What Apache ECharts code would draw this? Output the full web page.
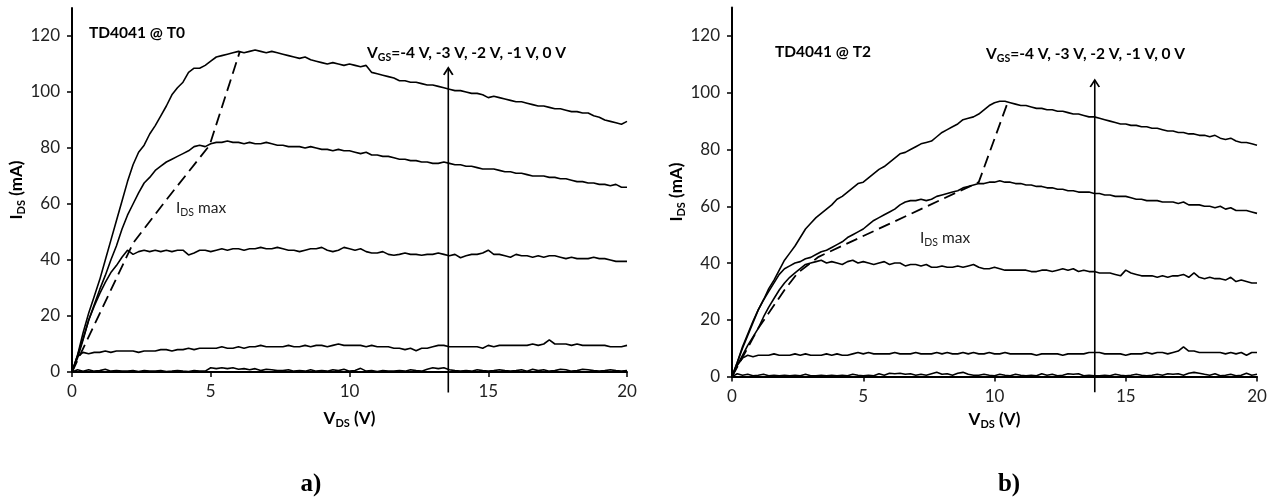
<!DOCTYPE html>
<html><head><meta charset="utf-8">
<script src="https://cdn.jsdelivr.net/npm/echarts@6/dist/echarts.min.js"></script>
<style>html,body{margin:0;padding:0;background:#fff}#c{width:1275px;height:502px}</style>
</head><body><div id="c"></div><script>
// Shared V_DS sample points (V)
const vds = [
  0,0.2,0.4,0.6,0.8,1,1.2,1.4,1.6,1.8,
  2,2.2,2.4,2.6,2.8,3,3.2,3.4,3.6,3.8,
  4,4.2,4.4,4.6,4.8,5,5.2,5.4,5.6,5.8,
  6,6.2,6.4,6.6,6.8,7,7.2,7.4,7.6,7.8,
  8,8.2,8.4,8.6,8.8,9,9.2,9.4,9.6,9.8,
  10,10.2,10.4,10.6,10.8,11,11.2,11.4,11.6,11.8,
  12,12.2,12.4,12.6,12.8,13,13.2,13.4,13.6,13.8,
  14,14.2,14.4,14.6,14.8,15,15.2,15.4,15.6,15.8,
  16,16.2,16.4,16.6,16.8,17,17.2,17.4,17.6,17.8,
  18,18.2,18.4,18.6,18.8,19,19.2,19.4,19.6,19.8,
  20];

// ---- a) TD4041 @ T0 : I_DS (mA) ----
const t0Vgs0 = [
  0,6,14,21,27,33,40,47,54,61,
  68,74,78.5,81,85,88,91.5,95,99,101.5,
  103.5,107,108.5,108.5,109.5,111,112.5,113,113.5,114,
  114.5,114,114.5,115,114.5,114,114.5,114,113.5,113,
  112.5,112,112.5,111.5,111,110.5,110,110.5,110,109.5,
  110,109.5,109,109.5,107,106.5,106,105.5,105,104,
  104,103.5,103.5,103,102.5,102.5,102,101.5,101,100.5,
  100.5,100,99.5,99.5,99,98,98.5,98,97.5,97,
  96.5,96.5,96,95.5,95,95,94.5,94,94,93.5,
  93,93,92.5,92.5,91.5,91,90,89.5,89,88.5,
  89.5];
const t0VgsM1 = [
  0,6,12,18.5,24,29.5,34.5,40,45,51,
  56,60,64,67.5,69.5,72,73.5,75,76,77,
  78,79,80.5,81,80.5,81.5,82,82,82.5,82,
  82,81.5,82,81.5,81.5,82,81.5,81,81,80.5,
  80.5,80.5,80,80.5,80,79.5,79.5,79,79.5,79,
  79,78.5,78,78.5,77.5,77.5,77,77,76.5,76,
  76,75.5,75.5,75,75,74.5,74.5,75,74.5,74,
  74,73.5,73.5,73,72.5,72.5,72.5,72,71.5,71.5,
  71,71,70.5,70,70,70,69.5,69.5,69,69,
  68.5,68,68,67.5,67.5,67,67,66.5,67,66,
  66];
const t0VgsM2 = [
  0,5,11.5,18.5,23.5,28,32,35.5,38,41,
  43.5,42,43,43.5,43,43.5,43,43.5,43,43.5,
  43.5,41.8,42.5,43.5,43.5,43,43.5,44,43.5,44,
  44,43.5,44,44,44.5,44,44,44.5,44,43.5,
  43.5,43,43.5,44,44,44.5,43.5,43,43.5,44.5,
  44,43.5,44,43,42.5,42.5,43,42,41.7,42,
  42.5,42,42,41.7,42,42,42.5,42,41.5,42,
  40.8,41.5,42,42,42.5,43.5,42,42,41.5,41,
  42,41.5,41.5,41,41.5,41,41.5,41.5,41,40.5,
  41,40.5,40.5,40.5,41,40.5,40.5,40,39.5,39.5,
  39.5];
const t0VgsM3 = [
  0,5.5,7,6.5,7,7,7.5,7,7.5,7.5,
  7.5,7.5,7,7.5,7.5,7.5,8,8,7.5,8,
  8,8.5,8,8.5,8.5,8.5,8.5,9,8.5,8.5,
  9,8.5,9,9,9.5,9,9,9,9,9.5,
  9,9,9.5,9,9.5,9.5,9,9.5,10,9.5,
  9.5,9.5,9.5,9,9.5,9,9,9,8.5,8.5,
  8,8.5,7.6,8.5,8.5,9,9.5,9.5,9,9,
  9,9,9,9,8.5,9.5,9,9.5,9.5,9.5,
  9.5,9.5,9.5,10,9.5,10,11.5,10,10,10,
  9.5,10,9.5,9.5,9.5,9.5,9.5,9,9,9,
  9.5];
const t0VgsM4 = [
  0,0.8,0.3,0.8,0.3,0.5,1,0.3,0.5,0.3,
  0.3,0.5,0.2,0.5,0.3,0.3,0.5,0.2,0.3,0.5,
  0.3,0.2,0.5,0.3,0.3,1.5,1.2,1.5,1.2,1.5,
  1,1.2,0.8,1.2,0.5,1,0.8,0.5,0.5,0.8,
  0.3,0.5,0.3,0.8,0.3,0.5,0.3,0.8,0.5,1,
  0.3,0.5,1.3,0.3,0.5,0.2,0.5,0.3,0.3,0.5,
  0.3,0.8,0.5,0.3,1,1.5,1.2,1.5,0.8,0.5,
  0.3,0.5,0.3,0.8,0.5,0.3,0.5,0.8,0.5,0.3,
  0.5,0.8,0.3,1,0.5,0.8,0.3,0.5,1,0.8,
  0.3,0.5,1,0.8,0.5,0.3,0.5,0.8,0.5,0.3,
  0.5];
const t0IdsMax = [[0,0],[2.2,46],[3.4,61.5],[4.96,81],[6.05,114.5]];
const t0Arrow = [[13.56,-7.3],[13.56,108.6]];

// ---- b) TD4041 @ T2 : I_DS (mA) ----
const t2Vgs0 = [
  0,5,10.5,15,19.5,23.5,27,31,34,37.5,
  41,43.5,46,49,52,54,56,57.5,59,60.5,
  62.5,63.5,65,66.5,68,68.5,70,71.5,73,74,
  75.5,77,78.5,79,80,81,82,82.5,83,84.5,
  86,87,88,89,90.5,91,91.5,92.5,94,95.5,
  96.5,97,97,96.5,96,95.5,95.5,95,94.5,94.5,
  94,94,93.5,93.5,93,92.5,92.5,92,91.5,91.5,
  91,90.5,90,89.5,89,89,88.5,88.5,88,88,
  87.5,87.5,87,86.5,86.5,86,86,85.5,85.5,85,
  85,84.5,85,84,83.5,84,83,82.5,82.5,82,
  81.5];
const t2VgsM1 = [
  0,5,10,14.5,19,23.5,27,30,33,36,
  38,39,40,40.5,41.5,42,43,44,44.5,45.5,
  46.5,47.5,49,50,51,52,53.5,55,56,57,
  58,59,60.5,61.5,62,62,62.5,62,62.5,63.5,
  64,64.5,65,65.5,66.5,67,67.5,68,68,68.5,
  68.5,69,68.5,68.5,68,68,67.5,67.5,67,67,
  66.5,66.5,66,66,65.5,65.5,65,65,65,64.5,
  64.5,64,64,63.5,63.5,63.5,63,62.5,62.5,62,
  62,62,61.5,61.5,61.5,61,61.5,60.5,60.5,60.5,
  60,60,59.5,60,59,59.5,58.5,58.5,58.5,58,
  57.5];
const t2VgsM2 = [
  0,4,7.5,11,14,17,21,24.5,27.5,30.5,
  33,35,36.5,38,39.5,40,40.5,41,40,40.5,
  40,39.5,40.5,41,40,40.5,40,39.5,40,40.5,
  39.5,40,40,39,39.5,39.5,39,39.5,38.5,38.5,
  39,38.5,38.5,39,38.5,39,39.5,38.5,38,38,
  38.5,38,37.5,37.5,37.5,37.5,37.5,37,37,37.5,
  37.5,37,37.5,38,37.5,38,37,37.5,37,37,
  36.5,36.5,36.5,36,35.5,37.5,36.5,36,35.5,35.5,
  35.5,35,35.5,35,35.5,35.5,36,35,36.5,35,
  34.5,35,34.5,34.5,34,35,33.5,34,33.5,33,
  33];
const t2VgsM3 = [
  0,4,6.5,7.5,7,7.5,7.5,7.5,8,7.5,
  7.5,7.5,8,7.5,8,7.5,7.5,7.5,8,7.5,
  8,7.5,7.5,8,8.5,8,8.5,8,8,8,
  8,8.5,8,8,8,8.5,8,8,8,8.5,
  8,8.5,8,8,8.5,8,8.5,8,8,8.5,
  8,8,8.5,8,8,8,8,8,7.5,8,
  8,8,8,7.5,8,8,8,8,8.5,8.5,
  8.5,8,8,8,8,7.5,8,8,8,8.5,
  8,8.5,8.5,8,8.5,9,10.5,9,9,8.5,
  8.5,8.5,8.5,8.5,8,8.5,8,8.5,7.5,8.5,
  8.5];
const t2VgsM4 = [
  0,1,0.5,0.8,0.3,0.5,0.8,0.3,0.5,0.3,
  0.5,0.3,0.5,0.3,0.8,0.3,0.3,0.5,0.3,0.5,
  0.3,0.5,0.3,0.8,0.5,0.3,0.5,0.3,1,0.5,
  1.2,1,1.2,0.8,1,0.5,0.8,0.5,1,1.5,
  0.8,1,0.5,1.2,1.5,0.8,0.5,0.5,0.8,0.5,
  0.3,0.8,0.5,0.3,0.8,0.5,0.3,0.5,0.3,1,
  0.5,0.8,0.3,0.5,1,0.8,1,0.3,0.5,0.3,
  0.3,0.5,0.3,0.8,0.5,0.3,0.5,0.8,0.5,0.3,
  0.5,0.8,0.5,1,0.8,1,0.5,1.2,1.5,1.2,
  0.8,0.5,1,0.3,0.5,0.8,0.3,0.5,1.2,0.5,
  0.8];
const t2IdsMax = [[0,0],[1.0,17],[2.0,30.5],[2.5,36.5],[3.3,42.2],[9.4,68.5],[10.5,96.5]];
const t2Arrow = [[13.82,-5.5],[13.82,104.5]];

// Axis ticks
const xTicks = [0,5,10,15,20];
const yTicks = [0,20,40,60,80,100,120];

// ---- build options ----
const FONT = 'Lato';
const pair = ys => ys.map((y,i) => [vds[i], y]);

function curve(idx, ys) {
  return { type:'line', xAxisIndex:idx, yAxisIndex:idx, data:pair(ys), showSymbol:false,
    lineStyle:{color:'#000', width:1.6}, silent:true, z:3 };
}
function dashed(idx, pts) {
  return { type:'line', xAxisIndex:idx, yAxisIndex:idx, data:pts, showSymbol:false,
    lineStyle:{color:'#000', width:1.8, type:[12,6]}, silent:true, z:3 };
}
function arrow(idx, pts) {
  return { type:'line', xAxisIndex:idx, yAxisIndex:idx, clip:false, silent:true, z:4,
    lineStyle:{color:'#000', width:1.6}, showSymbol:true,
    data:[
      {value:pts[0], symbol:'none'},
      {value:pts[1], symbol:'path://M0,8L5,0L10,8', symbolSize:[9,7], symbolOffset:[0,'50%'],
        itemStyle:{color:'rgba(0,0,0,0)', borderColor:'#000', borderWidth:1.6}}
    ]};
}
function xAx(idx, gap) {
  return { type:'value', gridIndex:idx, min:0, max:20, interval:5,
    axisLine:{show:true, onZero:false, lineStyle:{color:'#000', width:2}},
    axisTick:{show:true, length:5, customValues:xTicks, lineStyle:{color:'#000', width:1.5}},
    axisLabel:{fontFamily:FONT, fontSize:17, color:'#222', margin:11, customValues:xTicks},
    splitLine:{show:false},
    name:'{b|V}{s|DS}{b| (V)}', nameLocation:'middle', nameGap:gap,
    nameTextStyle:{rich:{
      b:{fontFamily:FONT, fontSize:17, fontWeight:'bold', color:'#000', lineHeight:20},
      s:{fontFamily:FONT, fontSize:11, fontWeight:'bold', color:'#000', lineHeight:9, verticalAlign:'bottom'}}}
  };
}
function yAx(idx, gap) {
  return { type:'value', gridIndex:idx, min:0, max:130, interval:20,
    axisLine:{show:true, onZero:false, lineStyle:{color:'#000', width:2}},
    axisTick:{show:true, length:5, customValues:yTicks, lineStyle:{color:'#000', width:1.5}},
    axisLabel:{fontFamily:FONT, fontSize:17, color:'#222', margin:12, customValues:yTicks},
    splitLine:{show:false},
    name:'{b|I}{s|DS}{b| (mA)}', nameLocation:'middle', nameGap:gap, nameRotate:90,
    nameTextStyle:{rich:{
      b:{fontFamily:FONT, fontSize:17, fontWeight:'bold', color:'#000', lineHeight:20},
      s:{fontFamily:FONT, fontSize:11, fontWeight:'bold', color:'#000', lineHeight:9, verticalAlign:'bottom'}}}
  };
}
const boldRich = {
  b:{fontFamily:FONT, fontSize:15.5, fontWeight:'bold', fill:'#000', lineHeight:20},
  s:{fontFamily:FONT, fontSize:10.5, fontWeight:'bold', fill:'#000', lineHeight:9, verticalAlign:'bottom'}
};
const normRich = {
  n:{fontFamily:FONT, fontSize:15.5, fill:'#222', lineHeight:20},
  s:{fontFamily:FONT, fontSize:10.5, fill:'#222', lineHeight:9, verticalAlign:'bottom'}
};
function txt(x, y, text, rich, align) {
  return { type:'text', x:x, y:y, silent:true, z:10,
    style:{ text:text, rich:rich, align:align||'left', verticalAlign:'middle' } };
}
const vgsText = '{b|V}{s|GS}{b|=-4 V, -3 V, -2 V, -1 V, 0 V}';

const option = {
  animation:false,
  backgroundColor:'#fff',
  grid:[
    {left:72, top:8, width:555, height:364},
    {left:732, top:7.6, width:525, height:369}
  ],
  xAxis:[xAx(0, 37), xAx(1, 33)],
  yAxis:[yAx(0, 44), yAx(1, 42)],
  series:[
    curve(0,t0Vgs0), curve(0,t0VgsM1), curve(0,t0VgsM2), curve(0,t0VgsM3), curve(0,t0VgsM4),
    dashed(0,t0IdsMax), arrow(0,t0Arrow),
    curve(1,t2Vgs0), curve(1,t2VgsM1), curve(1,t2VgsM2), curve(1,t2VgsM3), curve(1,t2VgsM4),
    dashed(1,t2IdsMax), arrow(1,t2Arrow)
  ],
  graphic:[
    txt(89, 33, '{b|TD4041 @ T0}', boldRich),
    txt(775, 52, '{b|TD4041 @ T2}', boldRich),
    txt(367, 53, vgsText, boldRich),
    txt(986, 54, vgsText, boldRich),
    txt(176, 208, '{n|I}{s|DS}{n| max}', normRich),
    txt(920, 238, '{n|I}{s|DS}{n| max}', normRich),
    { type:'text', x:311, y:485, silent:true,
      style:{text:'a)', font:'bold 25px "Liberation Serif"', fill:'#000', align:'center', verticalAlign:'middle'} },
    { type:'text', x:1009, y:485, silent:true,
      style:{text:'b)', font:'bold 25px "Liberation Serif"', fill:'#000', align:'center', verticalAlign:'middle'} }
  ]
};
const chart = echarts.init(document.getElementById('c'), null, {renderer:'canvas'});
chart.setOption(option);
</script></body></html>
